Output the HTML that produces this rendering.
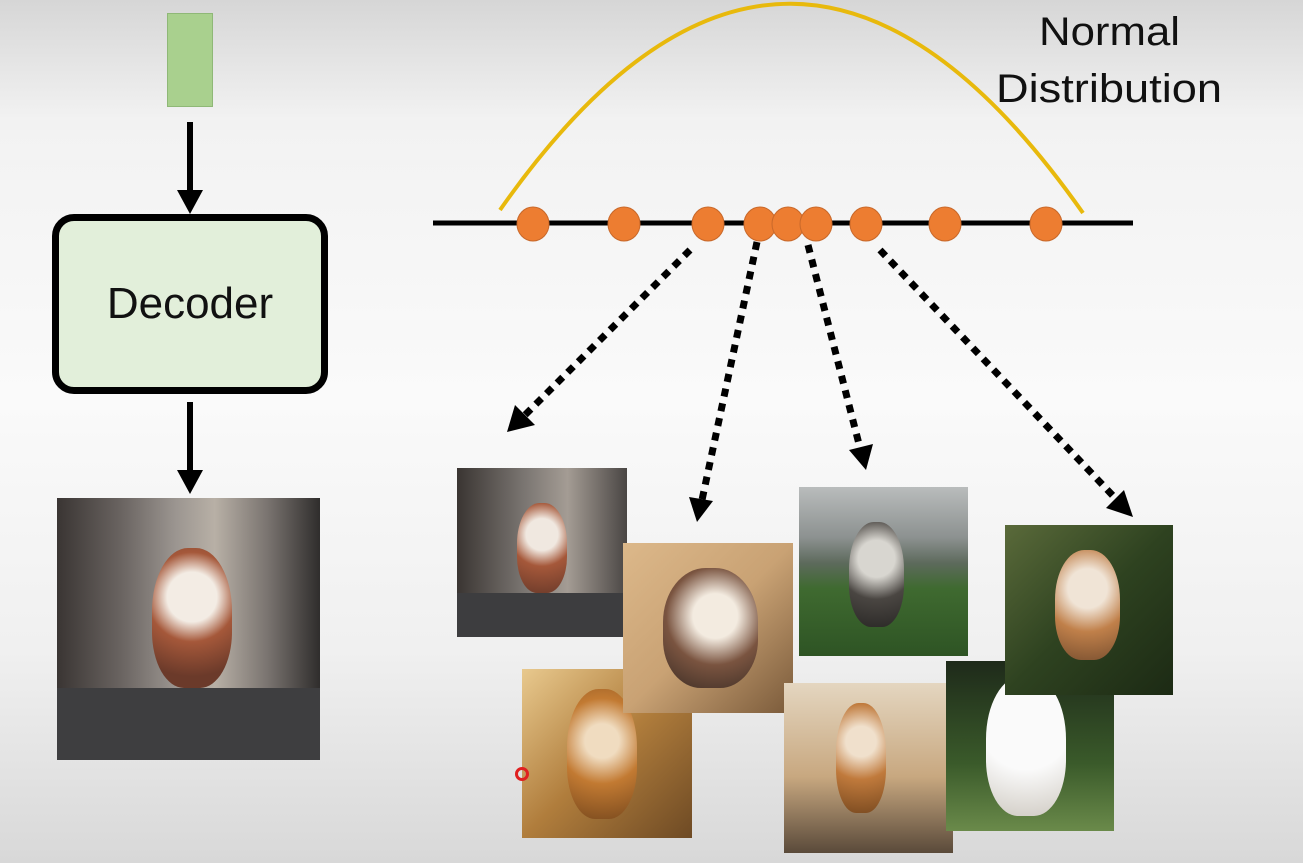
<!DOCTYPE html>
<html><head><meta charset="utf-8"><style>
html,body{margin:0;padding:0}
body{width:1303px;height:863px;position:relative;overflow:hidden;
background:linear-gradient(180deg,#d6d6d6 0px,#f2f2f2 120px,#fafafa 400px,#f0f0f0 650px,#d8d8d8 863px);
font-family:"Liberation Sans",sans-serif}
.img{position:absolute;overflow:hidden}
.dog{position:absolute;border-radius:45% 45% 40% 40%}
</style></head><body>
<div style="position:absolute;left:167px;top:13px;width:44px;height:92px;background:#a9d08e;border:1px solid #8fb877"></div>
<div style="position:absolute;left:52px;top:214px;width:262px;height:166px;background:#e2efda;border:7px solid #000;border-radius:22px;display:flex;align-items:center;justify-content:center;font-size:44px;color:#111">Decoder</div>

<div class="img" style="left:57px;top:498px;width:263px;height:262px;background:linear-gradient(90deg,#3a3533 0%,#6b6562 25%,#9b9590 45%,#b8b0a6 60%,#7a7470 80%,#2f2d2c 100%)">
 <div style="position:absolute;left:0;top:190px;width:263px;height:72px;background:#3e3e40"></div>
 <div class="dog" style="left:95px;top:50px;width:80px;height:140px;background:radial-gradient(circle at 50% 35%,#f3ece4 0 25%,#a5583a 45%,#6b3a2a 80%)"></div>
</div>

<div class="img" style="left:457px;top:468px;width:170px;height:169px;background:linear-gradient(90deg,#3a3532,#7b7672 40%,#a49c94 65%,#4a4644);">
 <div style="position:absolute;left:0;top:125px;width:170px;height:44px;background:#3d3d3f"></div>
 <div class="dog" style="left:60px;top:35px;width:50px;height:90px;background:radial-gradient(circle at 50% 35%,#f0e8e0 0 25%,#a5583a 50%,#6b3a2a)"></div>
</div>
<div class="img" style="left:522px;top:669px;width:170px;height:169px;background:linear-gradient(135deg,#e8c98e,#b07d3c 50%,#6e4a24);">
 <div class="dog" style="left:45px;top:20px;width:70px;height:130px;background:radial-gradient(circle at 50% 40%,#f0dcc0 0 20%,#c27a32 50%,#7a4a1e)"></div>
</div>
<div class="img" style="left:623px;top:543px;width:170px;height:170px;background:linear-gradient(135deg,#dcb88a,#c9a274 50%,#7a5a3a);">
 <div class="dog" style="left:40px;top:25px;width:95px;height:120px;background:radial-gradient(circle at 55% 40%,#f3ebe0 0 25%,#7a5440 55%,#3a2c24)"></div>
</div>
<div class="img" style="left:784px;top:683px;width:169px;height:170px;background:linear-gradient(180deg,#e4d6c0,#c8a880 55%,#5a4a3a);">
 <div class="dog" style="left:52px;top:20px;width:50px;height:110px;background:radial-gradient(circle at 50% 35%,#f0e0cc 0 20%,#c07a3c 50%,#7a4a20)"></div>
</div>
<div class="img" style="left:799px;top:487px;width:169px;height:169px;background:linear-gradient(180deg,#b9bcbc 0%,#8c9190 30%,#5d6a5c 45%,#3f6a30 60%,#2e5424 100%)">
 <div class="dog" style="left:50px;top:35px;width:55px;height:105px;background:radial-gradient(circle at 50% 35%,#d8d6d0 0 25%,#4a4642 55%,#2a2826)"></div>
</div>
<div class="img" style="left:946px;top:661px;width:168px;height:170px;background:linear-gradient(180deg,#1e2a1a,#3a5a2a 60%,#6a8a4a)">
 <div class="dog" style="left:40px;top:15px;width:80px;height:140px;background:radial-gradient(circle at 50% 35%,#fafafa 0 45%,#cfcac2)"></div>
</div>
<div class="img" style="left:1005px;top:525px;width:168px;height:170px;background:linear-gradient(135deg,#5a6a3a,#2e4220 50%,#1c2a14)">
 <div class="dog" style="left:50px;top:25px;width:65px;height:110px;background:radial-gradient(circle at 50% 35%,#f0e4d6 0 25%,#c0804a 55%,#7a5030)"></div>
</div>
<div style="position:absolute;left:515px;top:767px;width:8px;height:8px;border:3px solid #e02020;border-radius:50%"></div>

<svg width="1303" height="863" style="position:absolute;left:0;top:0">
 <line x1="190" y1="122" x2="190" y2="192" stroke="#000" stroke-width="6"/>
 <path d="M177,190 L203,190 L190,214 z" fill="#000"/>
 <line x1="190" y1="402" x2="190" y2="472" stroke="#000" stroke-width="6"/>
 <path d="M177,470 L203,470 L190,494 z" fill="#000"/>
 <path d="M500,210 Q790,-204 1083,213" fill="none" stroke="#e8b90c" stroke-width="4"/>
 <line x1="433" y1="223" x2="1133" y2="223" stroke="#000" stroke-width="5"/>
 <g fill="#ed7d31" stroke="#c8682a" stroke-width="1">
  <ellipse cx="533" cy="224" rx="16" ry="17"/><ellipse cx="624" cy="224" rx="16" ry="17"/>
  <ellipse cx="708" cy="224" rx="16" ry="17"/><ellipse cx="760" cy="224" rx="16" ry="17"/>
  <ellipse cx="788" cy="224" rx="16" ry="17"/><ellipse cx="816" cy="224" rx="16" ry="17"/>
  <ellipse cx="866" cy="224" rx="16" ry="17"/><ellipse cx="945" cy="224" rx="16" ry="17"/>
  <ellipse cx="1046" cy="224" rx="16" ry="17"/>
 </g>
 <g stroke="#000" stroke-width="7" stroke-dasharray="8 7" fill="none">
  <line x1="690" y1="250" x2="525" y2="415"/>
  <line x1="757" y1="242" x2="702" y2="500"/>
  <line x1="808" y1="245" x2="860" y2="448"/>
  <line x1="880" y1="250" x2="1117" y2="500"/>
 </g>
 <path d="M507,432 L515,405 L535,425 z" fill="#000"/>
 <path d="M697,522 L689,497 L713,501 z" fill="#000"/>
 <path d="M866,470 L849,450 L873,444 z" fill="#000"/>
 <path d="M1133,517 L1106,508 L1124,490 z" fill="#000"/>
 <text x="1039" y="45" font-size="40" textLength="141" lengthAdjust="spacingAndGlyphs" font-family="Liberation Sans, sans-serif" fill="#111">Normal</text>
 <text x="996" y="102" font-size="40" textLength="226" lengthAdjust="spacingAndGlyphs" font-family="Liberation Sans, sans-serif" fill="#111">Distribution</text>
</svg>
</body></html>
